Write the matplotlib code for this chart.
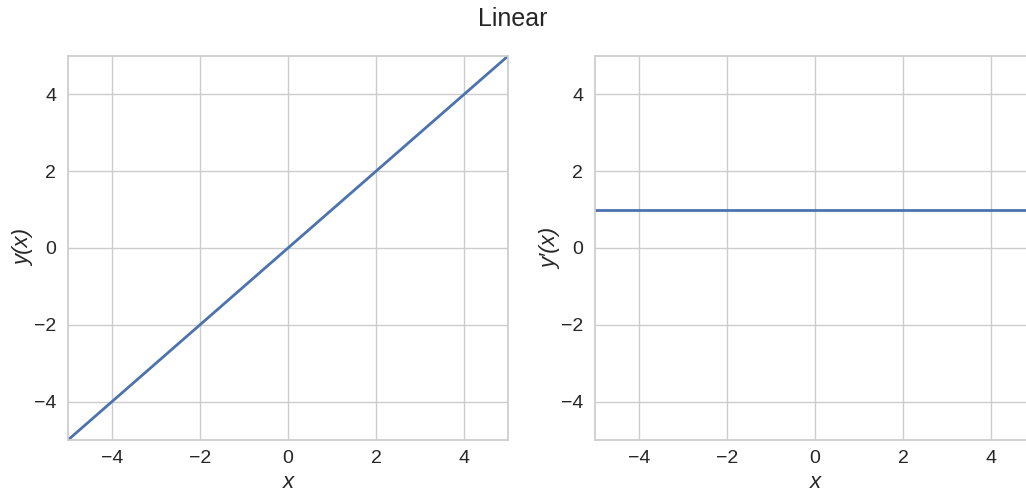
import numpy as np
import matplotlib.pyplot as plt
import seaborn as sns

sns.set_theme(style='whitegrid', font_scale=1.3)
plt.rcParams['font.family'] = ['Liberation Sans', 'DejaVu Sans']

x = np.array([-5.0, 5.0])
y = np.array([-5.0, 5.0])
dy = np.array([1.0, 1.0])

fig = plt.figure(figsize=(10.26, 4.92), dpi=100)
W, H = 1026, 492
ax1 = fig.add_axes([68 / W, 1 - 440 / H, 440 / W, 384 / H])
ax2 = fig.add_axes([595 / W, 1 - 440 / H, 440 / W, 384 / H])

ax1.plot(x, y, color='#4C72B0', lw=2)
ax2.plot(x, dy, color='#4C72B0', lw=2)

for ax, lab in [(ax1, 'y(x)'), (ax2, 'y\u2032(x)')]:
    ax.set_xlim(-5, 5)
    ax.set_ylim(-5, 5)
    ax.set_xticks([-4, -2, 0, 2, 4])
    ax.set_yticks([-4, -2, 0, 2, 4])
    ax.tick_params(axis='y', labelsize=14, length=0, pad=8.5)
    ax.tick_params(axis='x', labelsize=14, length=0, pad=7)
    ax.set_xlabel('x', fontsize=16, fontstyle='italic', labelpad=4)
    ax.set_ylabel(lab, fontsize=16, fontstyle='italic', labelpad=0)

fig.suptitle('Linear', y=0.985, fontsize=18)
fig.savefig('out.png', dpi=100)
